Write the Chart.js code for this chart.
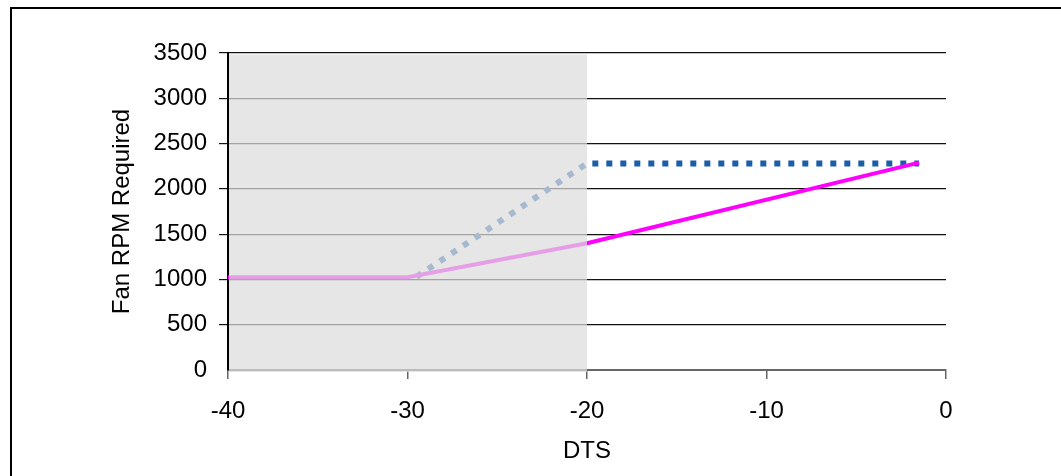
<!DOCTYPE html>
<html>
<head>
<meta charset="utf-8">
<script src="https://cdn.jsdelivr.net/npm/chart.js@4.4.1/dist/chart.umd.min.js"></script>
<style>
  html, body { margin: 0; padding: 0; background: #fff; overflow: hidden; }
  #wrap { position: relative; width: 1061px; height: 476px; }
  #frame { position: absolute; left: 10px; top: 7px; width: 1100px; height: 500px;
           border-top: 2px solid #000; border-left: 2px solid #000; box-sizing: border-box; }
  canvas { position: absolute; left: 0; top: 0; }
</style>
</head>
<body>
<div id="wrap">
  <canvas id="c" width="1061" height="476"></canvas>
  <div id="frame"></div>
</div>
<script>
// ---- data ----
const dtsPink = [-40, -30, -20, -1.5];
const rpmPink = [1025, 1025, 1400, 2290];
const dtsBlue = [-29.5, -20, -1.5];
const rpmBlue = [1030, 2280, 2280];
const shadeRange = [-40, -20];
const xTickRange = [-40, 0, 10];   // min, max, step
const yTickRange = [0, 3500, 500]; // min, max, step
const xTitle = 'DTS';
const yTitle = 'Fan RPM Required';

const FONT = { family: '"Liberation Sans", Arial, sans-serif', size: 24 };

const shadePlugin = {
  id: 'shade',
  afterDatasetsDraw(chart) {
    const { ctx, chartArea, scales } = chart;
    const x0 = scales.x.getPixelForValue(shadeRange[0]);
    const x1 = scales.x.getPixelForValue(shadeRange[1]);
    ctx.save();
    ctx.fillStyle = 'rgba(221,221,221,0.72)';
    ctx.fillRect(x0 + 1, chartArea.top + 1.5, x1 - x0 - 1, chartArea.bottom - chartArea.top + 0.5);
    ctx.restore();
  }
};

new Chart(document.getElementById('c'), {
  type: 'line',
  data: {
    datasets: [
      {
        data: dtsPink.map((x, i) => ({ x, y: rpmPink[i] })),
        borderColor: '#FF00FF',
        borderWidth: 4,
        pointRadius: 0,
        tension: 0,
        fill: false
      },
      {
        data: dtsBlue.map((x, i) => ({ x, y: rpmBlue[i] })),
        borderColor: '#1A5EA8',
        borderWidth: 6,
        borderDash: [6, 8],
        borderCapStyle: 'butt',
        pointRadius: 0,
        tension: 0,
        fill: false
      }
    ]
  },
  options: {
    responsive: false,
    animation: false,
    events: [],
    layout: { padding: { left: 104, right: 115, top: 53, bottom: 6 } },
    plugins: { legend: { display: false }, tooltip: { enabled: false } },
    scales: {
      x: {
        type: 'linear',
        min: xTickRange[0], max: xTickRange[1],
        ticks: { stepSize: xTickRange[2], color: '#000', font: FONT, padding: 18, maxRotation: 0,
                 callback: (v) => String(v) },
        grid: { drawOnChartArea: false, drawTicks: true, tickLength: 9, color: '#666', lineWidth: 1.5 },
        border: { color: '#666', width: 2 },
        title: { display: true, text: xTitle, color: '#000', font: FONT, padding: { top: 4, bottom: 4 } },
        afterFit(scale) { scale.height = 476 - 6 - 370; }
      },
      y: {
        min: yTickRange[0], max: yTickRange[1],
        ticks: { stepSize: yTickRange[2], color: '#000', font: FONT, padding: 12,
                 callback: (v) => String(v) },
        grid: {
          tickLength: 9,
          color: (c) => (c.index === 0 ? 'rgba(0,0,0,0)' : '#111'),
          lineWidth: 1.2
        },
        border: { color: '#000', width: 2 },
        title: { display: true, text: yTitle, color: '#000', font: FONT, padding: { top: 4, bottom: 4 } },
        afterFit(scale) { scale.width = 228 - 104; }
      }
    }
  },
  plugins: [shadePlugin]
});
</script>
</body>
</html>
